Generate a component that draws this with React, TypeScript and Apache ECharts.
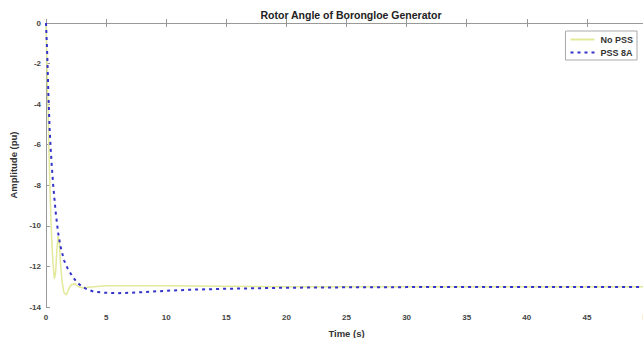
import React, { useEffect, useRef } from "react";
import * as echarts from "echarts";

const titleText = "Rotor Angle of Borongloe Generator";
const xName = "Time (s)";
const yName = "Amplitude (pu)";
const seriesNames = ["No PSS", "PSS 8A"];

const timeNoPss = [0, 0.1, 0.2, 0.3, 0.4, 0.5, 0.6, 0.7, 0.8, 0.9, 1.0, 1.1, 1.2, 1.35, 1.5, 1.7, 1.9, 2.1, 2.4, 2.7, 3, 4, 5, 10, 20, 30, 40, 50];
const valNoPss = [0, -2.5, -5, -7.5, -9.5, -11, -12, -12.6, -12.3, -11.2, -10.5, -10.8, -11.8, -12.8, -13.3, -13.4, -13.1, -12.9, -12.85, -13.0, -13.05, -13.0, -12.95, -12.95, -13.0, -13.0, -13.0, -13.0];

const timePss = [0, 0.1, 0.2, 0.3, 0.4, 0.5, 0.6, 0.8, 1.0, 1.2, 1.5, 1.8, 2.2, 2.6, 3.0, 3.5, 4, 5, 6, 7, 8, 10, 12, 15, 18, 20, 25, 30, 40, 50];
const valPss = [0, -1.5, -3.5, -5.2, -6.3, -7.2, -8.0, -9.3, -10.3, -11.0, -11.7, -12.1, -12.5, -12.8, -13.0, -13.15, -13.25, -13.3, -13.32, -13.3, -13.27, -13.2, -13.15, -13.1, -13.07, -13.05, -13.03, -13.02, -13.02, -13.02];

const zip = (xs: number[], ys: number[]) => xs.map((x, i) => [x, ys[i]]);

export default function App() {
  const ref = useRef<HTMLDivElement>(null);
  useEffect(() => {
    document.body.style.margin = "0";
    const chart = echarts.init(ref.current!, null, { renderer: "svg" });
    const font = "Liberation Sans";
    const labelStyle = { color: "#444", fontSize: 8, fontWeight: "bold" as const, fontFamily: font };
    chart.setOption({
      animation: false,
      backgroundColor: "#fff",
      title: {
        text: titleText,
        left: 346,
        textAlign: "center",
        top: 4,
        textStyle: { fontSize: 10.5, fontWeight: "bold", color: "#222", fontFamily: font },
      },
      legend: {
        orient: "vertical",
        right: 6,
        top: 31,
        align: "left",
        data: seriesNames,
        itemWidth: 24,
        itemHeight: 8,
        itemGap: 4,
        padding: [4, 4, 3, 4],
        borderColor: "#aaa",
        borderWidth: 1,
        backgroundColor: "#fff",
        itemStyle: { opacity: 0 },
        textStyle: { fontSize: 9, fontWeight: "bold", color: "#333", fontFamily: font, padding: [0, 0, 0, 1] },
      },
      grid: { left: 46, top: 23, width: 601, height: 284, show: false, outerBoundsMode: "none", containLabel: false },
      xAxis: [
        {
          type: "value",
          min: 0,
          max: 50,
          interval: 5,
          name: xName,
          nameLocation: "middle",
          nameGap: 21,
          nameTextStyle: { fontSize: 9.5, fontWeight: "bold", color: "#333", fontFamily: font },
          axisLine: { show: true, lineStyle: { color: "#999" } },
          axisTick: { inside: true, length: 4, lineStyle: { color: "#999" } },
          axisLabel: { ...labelStyle, margin: 6 },
          splitLine: { show: false },
        },
        {
          type: "value",
          position: "top",
          min: 0,
          max: 50,
          interval: 5,
          axisLine: { show: true, lineStyle: { color: "#999" } },
          axisTick: { inside: true, length: 4, lineStyle: { color: "#999" } },
          axisLabel: { show: false },
          splitLine: { show: false },
        },
      ],
      yAxis: {
        type: "value",
        min: -14,
        max: 0,
        interval: 2,
        name: yName,
        nameLocation: "middle",
        nameGap: 26,
        nameTextStyle: { fontSize: 9.5, fontWeight: "bold", color: "#333", fontFamily: font },
        axisLine: { show: true, lineStyle: { color: "#999" } },
        axisTick: { inside: true, length: 4, lineStyle: { color: "#999" } },
        axisLabel: { ...labelStyle, margin: 5 },
        splitLine: { show: false },
      },
      series: [
        {
          name: seriesNames[0],
          type: "line",
          symbol: "none",
          data: zip(timeNoPss, valNoPss),
          lineStyle: { color: "#e3e89a", width: 1.5 },
          itemStyle: { color: "#e3e89a" },
        },
        {
          name: seriesNames[1],
          type: "line",
          symbol: "none",
          data: zip(timePss, valPss),
          lineStyle: { color: "#3434c8", width: 2, type: [3, 4] },
          itemStyle: { color: "#3434c8" },
        },
      ],
    });
    return () => chart.dispose();
  }, []);
  return <div ref={ref} style={{ width: 643, height: 338 }} />;
}
